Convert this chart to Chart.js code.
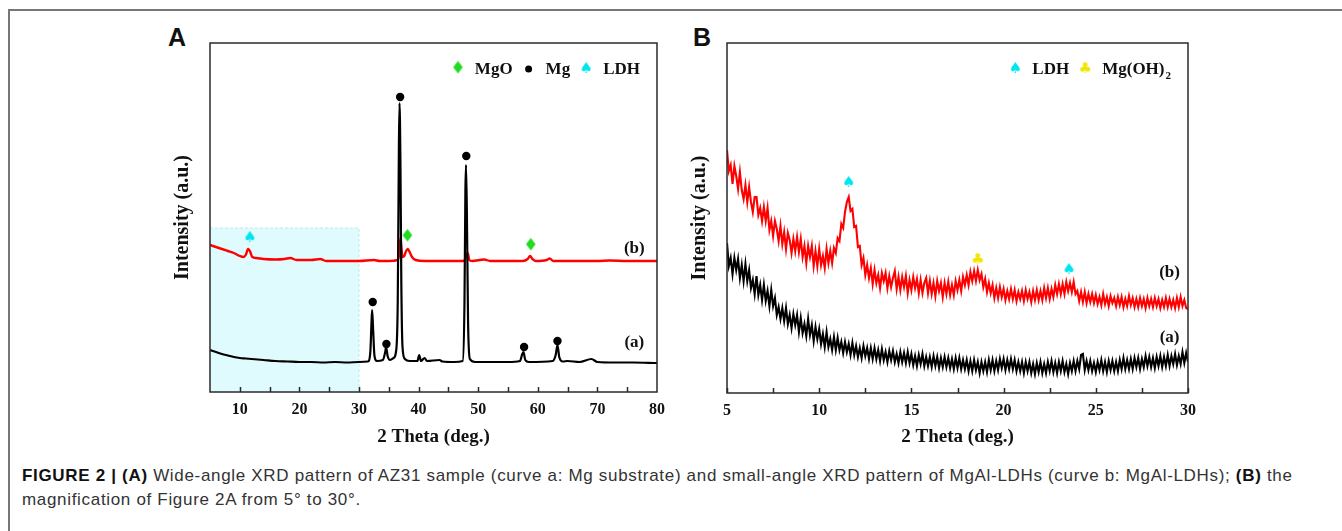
<!DOCTYPE html>
<html>
<head>
<meta charset="utf-8">
<script src="https://cdn.jsdelivr.net/npm/chart.js@4.4.1/dist/chart.umd.min.js"></script>
<style>
  html, body { margin: 0; padding: 0; background: #fff; }
  body { width: 1342px; height: 531px; position: relative; overflow: hidden; }
  .frame-top { position: absolute; left: 8px; top: 9px; width: 1334px; height: 2px; background: #777; }
  .frame-left { position: absolute; left: 8px; top: 9px; width: 2px; height: 522px; background: #777; }
  .panel-tag { position: absolute; top: 25px; font: bold 25px/25px "Liberation Sans", Arial, sans-serif; color: #111; }
  .chart-box { position: absolute; top: 30px; }
  #caption { position: absolute; left: 22px; top: 464px; margin: 0; white-space: nowrap;
             font: 17px/24px "Liberation Sans", Arial, sans-serif; letter-spacing: 0.68px; color: #333; }
  #caption b { color: #111; }
</style>
</head>
<body>
<div class="frame-top"></div>
<div class="frame-left"></div>
<div class="panel-tag" style="left:168px">A</div>
<div class="panel-tag" style="left:693px">B</div>
<div class="chart-box" style="left:150px"><canvas id="chartA" width="530" height="420"></canvas></div>
<div class="chart-box" style="left:667px"><canvas id="chartB" width="544" height="420"></canvas></div>
<p id="caption"><b>FIGURE 2 | (A)</b> Wide-angle XRD pattern of AZ31 sample (curve a: Mg substrate) and small-angle XRD pattern of MgAl-LDHs (curve b: MgAl-LDHs); <b>(B)</b> the<br>magnification of Figure 2A from 5° to 30°.</p>

<script>
// ----------------- Panel A data (5-80 deg, a.u.) -----------------
const aTickLabels = [10, 20, 30, 40, 50, 60, 70, 80];
const aTickMarks = [10, 15, 20, 25, 30, 35, 40, 45, 50, 55, 60, 65, 70, 75];

// curve (a): Mg substrate
const aThetaBlack = [5, 6, 7, 8, 9, 10, 11, 12, 13, 14, 16, 18, 20, 22, 24, 26, 28, 30,
  31.5, 31.9, 32.1, 32.2, 32.35, 32.6, 33, 34, 34.4, 34.55, 34.8, 35.2, 35.8,
  36.2, 36.5, 36.7, 36.8, 36.95, 37.1, 37.3, 37.7, 38.5, 39.8, 40.1, 40.4, 41, 41.4,
  43.5, 44, 46, 47.4, 47.7, 47.85, 47.95, 48.1, 48.3, 48.6, 49.5, 52, 55,
  57, 57.4, 57.6, 57.9, 58.5, 62.5, 63, 63.3, 63.6, 64.2, 65, 67, 69, 70, 73, 76, 80];
const aBlack = [42, 40, 38, 36.5, 35, 34, 33.5, 33, 32.5, 32, 31, 30.5, 30, 30, 29.5, 30, 29.5, 30,
  30.5, 40, 70, 82, 65, 36, 31, 32, 40, 45, 36, 32, 34,
  40, 90, 250, 289, 230, 110, 45, 33, 31, 31, 37, 31, 34, 31,
  32, 30.5, 30, 31, 90, 200, 227, 180, 70, 33, 30, 30, 30,
  31, 38, 40, 32, 30, 31, 37, 47, 35, 30.5, 31, 30, 33, 30, 29.5, 29.5, 29];

// curve (b): MgAl-LDHs
const aThetaRed = [5, 6, 7, 8, 9, 10, 10.6, 11, 11.4, 11.7, 12.1, 12.8, 14, 16, 17.5, 18.5, 19.5,
  22, 23.5, 24.5, 27, 30, 32.5, 33.5, 35, 36.5, 36.8, 36.95, 37.1, 37.3,
  37.6, 37.9, 38.2, 38.5, 38.9, 39.5, 41, 44, 47.5, 48, 48.25, 48.5, 49,
  51, 52, 55, 57.5, 58.3, 58.7, 59.1, 59.6, 61.5, 62, 62.6, 66, 70, 72, 75, 80];
const aRed = [147, 145, 143, 141, 139, 136, 135, 137, 143, 141, 135, 134, 133, 132.5, 133, 134, 132,
  132, 133, 131, 131, 131, 132, 131, 131, 132, 140, 154, 145, 135,
  136, 141, 143, 140, 135, 132, 131, 131, 131, 135, 139, 132, 131,
  132.5, 131, 131, 131, 133, 136, 133, 131, 132, 133.5, 131, 131, 131, 131.5, 131, 131];

// phase markers
const aMgOTheta = [38.1, 58.8];
const aMgOY = [155, 146];
const aMgTheta = [32.3, 34.6, 36.9, 48.0, 57.7, 63.3];
const aMgY = [90, 48, 295, 236, 45, 51];
const aLdhTheta = [11.7];
const aLdhY = [154];

// small-angle window highlighted in A
const shadeFrom = 5, shadeTo = 30, shadeTop = 164;

// ----------------- Panel B data (5-30 deg, a.u.) -----------------
const bTickLabels = [5, 10, 15, 20, 25, 30];
const bTickMarks = [5, 7.5, 10, 12.5, 15, 17.5, 20, 22.5, 25, 27.5, 30];

const bTheta = [
  5.0, 5.1, 5.2, 5.3, 5.4, 5.5, 5.6, 5.7, 5.8, 5.9,
  6.0, 6.1, 6.2, 6.3, 6.4, 6.5, 6.6, 6.7, 6.8, 6.9,
  7.0, 7.1, 7.2, 7.3, 7.4, 7.5, 7.6, 7.7, 7.8, 7.9,
  8.0, 8.1, 8.2, 8.3, 8.4, 8.5, 8.6, 8.7, 8.8, 8.9,
  9.0, 9.1, 9.2, 9.3, 9.4, 9.5, 9.6, 9.7, 9.8, 9.9,
  10.0, 10.1, 10.2, 10.3, 10.4, 10.5, 10.6, 10.7, 10.8, 10.9,
  11.0, 11.1, 11.2, 11.3, 11.4, 11.5, 11.6, 11.7, 11.8, 11.9,
  12.0, 12.1, 12.2, 12.3, 12.4, 12.5, 12.6, 12.7, 12.8, 12.9,
  13.0, 13.1, 13.2, 13.3, 13.4, 13.5, 13.6, 13.7, 13.8, 13.9,
  14.0, 14.1, 14.2, 14.3, 14.4, 14.5, 14.6, 14.7, 14.8, 14.9,
  15.0, 15.1, 15.2, 15.3, 15.4, 15.5, 15.6, 15.7, 15.8, 15.9,
  16.0, 16.1, 16.2, 16.3, 16.4, 16.5, 16.6, 16.7, 16.8, 16.9,
  17.0, 17.1, 17.2, 17.3, 17.4, 17.5, 17.6, 17.7, 17.8, 17.9,
  18.0, 18.1, 18.2, 18.3, 18.4, 18.5, 18.6, 18.7, 18.8, 18.9,
  19.0, 19.1, 19.2, 19.3, 19.4, 19.5, 19.6, 19.7, 19.8, 19.9,
  20.0, 20.1, 20.2, 20.3, 20.4, 20.5, 20.6, 20.7, 20.8, 20.9,
  21.0, 21.1, 21.2, 21.3, 21.4, 21.5, 21.6, 21.7, 21.8, 21.9,
  22.0, 22.1, 22.2, 22.3, 22.4, 22.5, 22.6, 22.7, 22.8, 22.9,
  23.0, 23.1, 23.2, 23.3, 23.4, 23.5, 23.6, 23.7, 23.8, 23.9,
  24.0, 24.1, 24.2, 24.3, 24.4, 24.5, 24.6, 24.7, 24.8, 24.9,
  25.0, 25.1, 25.2, 25.3, 25.4, 25.5, 25.6, 25.7, 25.8, 25.9,
  26.0, 26.1, 26.2, 26.3, 26.4, 26.5, 26.6, 26.7, 26.8, 26.9,
  27.0, 27.1, 27.2, 27.3, 27.4, 27.5, 27.6, 27.7, 27.8, 27.9,
  28.0, 28.1, 28.2, 28.3, 28.4, 28.5, 28.6, 28.7, 28.8, 28.9,
  29.0, 29.1, 29.2, 29.3, 29.4, 29.5, 29.6, 29.7, 29.8, 29.9,
  30.0];

// curve (b): MgAl-LDHs, noisy raw scan
const bRed = [
  243, 222, 228, 209, 227, 217, 204, 221, 203, 194,
  208, 191, 206, 191, 181, 196, 196, 178, 185, 172,
  186, 172, 185, 163, 172, 157, 172, 164, 152, 167,
  149, 161, 144, 160, 153, 140, 154, 142, 156, 141,
  154, 136, 147, 130, 147, 136, 147, 127, 142, 127,
  144, 128, 137, 125, 144, 130, 142, 130, 145, 140,
  155, 152, 169, 165, 181, 191, 196, 182, 184, 166,
  167, 146, 147, 128, 135, 118, 128, 115, 125, 109,
  123, 110, 118, 105, 120, 112, 120, 105, 117, 106,
  115, 122, 104, 116, 103, 116, 106, 117, 100, 113,
  103, 116, 105, 114, 100, 113, 100, 110, 115, 100,
  112, 99, 110, 97, 112, 102, 110, 96, 110, 99,
  111, 98, 108, 98, 112, 103, 113, 102, 116, 108,
  118, 108, 121, 112, 122, 112, 123, 113, 119, 106,
  114, 101, 110, 100, 108, 95, 105, 95, 106, 96,
  104, 93, 102, 94, 104, 94, 103, 92, 101, 94,
  102, 92, 103, 94, 101, 91, 102, 93, 103, 93,
  102, 93, 105, 95, 105, 94, 104, 96, 108, 99,
  109, 99, 109, 99, 111, 102, 110, 101, 111, 99,
  102, 92, 101, 91, 101, 90, 99, 91, 99, 90,
  98, 89, 96, 88, 99, 89, 96, 87, 97, 90,
  95, 87, 96, 88, 96, 86, 94, 87, 97, 88,
  95, 86, 94, 86, 95, 87, 94, 85, 95, 87,
  94, 86, 95, 87, 94, 85, 93, 86, 95, 86,
  94, 86, 93, 85, 95, 86, 96, 87, 93, 85,
  84];

// curve (a): Mg substrate, noisy raw scan
const bBlack = [
  150, 127, 135, 119, 135, 123, 134, 115, 128, 112,
  129, 112, 123, 105, 113, 99, 117, 98, 108, 93,
  108, 92, 102, 87, 103, 87, 95, 78, 86, 74,
  85, 72, 85, 69, 78, 65, 79, 68, 78, 61,
  75, 60, 69, 57, 74, 58, 68, 52, 66, 54,
  64, 49, 59, 46, 61, 46, 54, 43, 56, 43,
  55, 43, 51, 40, 51, 41, 49, 38, 50, 38,
  47, 36, 45, 35, 47, 37, 45, 34, 45, 34,
  45, 34, 43, 32, 44, 33, 41, 31, 42, 33,
  42, 31, 39, 30, 41, 31, 40, 30, 41, 30,
  39, 28, 37, 27, 38, 29, 39, 27, 36, 27,
  36, 26, 37, 27, 36, 25, 35, 26, 36, 26,
  35, 25, 34, 24, 35, 25, 35, 24, 33, 24,
  33, 22, 32, 22, 33, 23, 31, 20, 31, 22,
  31, 21, 33, 23, 33, 22, 32, 23, 34, 25,
  34, 23, 33, 24, 34, 24, 33, 22, 31, 22,
  31, 20, 31, 22, 31, 20, 29, 19, 30, 21,
  31, 20, 29, 20, 31, 22, 32, 21, 30, 20,
  31, 22, 32, 21, 29, 19, 30, 22, 32, 22,
  32, 24, 38, 39, 23, 32, 23, 32, 22, 30,
  21, 31, 23, 33, 22, 31, 21, 32, 23, 32,
  22, 31, 22, 33, 24, 35, 24, 33, 24, 34,
  24, 35, 26, 35, 24, 34, 26, 37, 27, 36,
  26, 35, 25, 36, 27, 37, 26, 36, 27, 38,
  27, 37, 29, 39, 28, 37, 29, 41, 30, 40,
  31];

const bLdhTheta = [11.6, 23.55];
const bLdhY = [210, 123];
const bMgOH2Theta = [18.6];
const bMgOH2Y = [133];

// ----------------- Helpers -----------------
const toPoints = (xs, ys) => xs.map((x, i) => ({ x: x, y: ys[i] }));

function makeGlyph(ch, color, size) {
  const c = document.createElement('canvas');
  c.width = Math.ceil(size * 1.1);
  c.height = Math.ceil(size * 1.2);
  const g = c.getContext('2d');
  g.fillStyle = color;
  g.font = size + 'px "DejaVu Sans"';
  g.textAlign = 'center';
  g.textBaseline = 'middle';
  g.fillText(ch, c.width / 2, c.height / 2);
  return c;
}

const spade = makeGlyph('\u2660', '#00e5f0', 15);
const club = makeGlyph('\u2663', '#f2e600', 15);
const diamond = makeGlyph('\u2666', '#1fdc1f', 17);

const serifBold = size => ({ family: '"Liberation Serif", "Times New Roman", serif', size: size, weight: 'bold' });

function lineSet(xs, ys, color, width, smooth) {
  return {
    data: toPoints(xs, ys),
    borderColor: color,
    borderWidth: width,
    pointRadius: 0,
    fill: false,
    tension: 0,
    cubicInterpolationMode: smooth ? 'monotone' : 'default'
  };
}

function markerSet(xs, ys, style, color) {
  return {
    data: toPoints(xs, ys),
    showLine: false,
    pointStyle: style,
    pointRadius: style === 'circle' ? 4.2 : 6,
    backgroundColor: color,
    borderColor: color,
    borderWidth: 0
  };
}

// ----------------- Frame / ticks / legend plugin -----------------
const xrdDecor = {
  id: 'xrdDecor',
  beforeDatasetsDraw(chart, args, opts) {
    if (!opts.shade) return;
    const { ctx, chartArea, scales: { x, y } } = chart;
    const l = x.getPixelForValue(opts.shade[0]);
    const r = x.getPixelForValue(opts.shade[1]);
    const t = y.getPixelForValue(opts.shade[2]);
    ctx.save();
    ctx.fillStyle = '#e0fbfd';
    ctx.fillRect(l, t, r - l, chartArea.bottom - t);
    ctx.strokeStyle = '#bfe8ee';
    ctx.lineWidth = 1;
    ctx.setLineDash([3, 2]);
    ctx.beginPath();
    ctx.moveTo(l, t); ctx.lineTo(r, t); ctx.lineTo(r, chartArea.bottom);
    ctx.stroke();
    ctx.restore();
  },
  afterDatasetsDraw(chart, args, opts) {
    const { ctx, chartArea: area, scales: { x, y } } = chart;
    ctx.save();
    // box
    ctx.strokeStyle = '#2a2a2a';
    ctx.lineWidth = 1.5;
    ctx.strokeRect(area.left, area.top, area.right - area.left, area.bottom - area.top);
    // inward ticks on the bottom axis
    ctx.beginPath();
    opts.tickMarks.forEach(v => {
      const px = Math.round(x.getPixelForValue(v)) + 0.5;
      ctx.moveTo(px, area.bottom);
      ctx.lineTo(px, area.bottom - 5);
    });
    ctx.stroke();

    // curve labels
    ctx.fillStyle = '#111';
    ctx.font = 'bold 17px "Liberation Serif", serif';
    ctx.textAlign = 'center';
    ctx.textBaseline = 'middle';
    opts.curveLabels.forEach(c => {
      ctx.fillText(c.text, x.getPixelForValue(c.x), y.getPixelForValue(c.y));
    });

    // legend, right aligned in the top of the plot
    const items = opts.legend;
    const font = 'bold 17px "Liberation Serif", serif';
    const subFont = 'bold 11px "Liberation Serif", serif';
    const widths = items.map(it => {
      ctx.font = font;
      let w = ctx.measureText(it.text).width;
      if (it.sub) { ctx.font = subFont; w += ctx.measureText(it.sub).width + 1; }
      return w;
    });
    let total = 0;
    items.forEach((it, i) => { total += (i ? 16 : 0) + 17 + widths[i]; });
    let cx = area.right - 17 - total;
    const cy = area.top + 26;
    items.forEach((it, i) => {
      if (i) cx += 16;
      if (it.marker === 'dot') {
        ctx.fillStyle = '#000';
        ctx.beginPath();
        ctx.arc(cx, cy, 3.5, 0, Math.PI * 2);
        ctx.fill();
      } else {
        ctx.drawImage(it.marker, cx - it.marker.width / 2, cy - it.marker.height / 2);
      }
      cx += 17;
      ctx.fillStyle = '#111';
      ctx.textAlign = 'left';
      ctx.font = font;
      ctx.fillText(it.text, cx, cy + 1);
      const tw = ctx.measureText(it.text).width;
      if (it.sub) {
        ctx.font = subFont;
        ctx.fillText(it.sub, cx + tw + 1, cy + 7);
      }
      cx += widths[i];
    });
    ctx.restore();
  }
};

function buildChart(id, cfg) {
  return new Chart(document.getElementById(id), {
    type: 'line',
    data: { datasets: cfg.datasets },
    options: {
      responsive: false,
      animation: false,
      layout: { padding: { top: 13, right: 23, left: 0, bottom: 0 } },
      plugins: {
        legend: { display: false },
        tooltip: { enabled: false },
        xrdDecor: {
          shade: cfg.shade,
          tickMarks: cfg.tickMarks,
          curveLabels: cfg.curveLabels,
          legend: cfg.legend
        }
      },
      scales: {
        x: {
          type: 'linear',
          min: cfg.xMin,
          max: cfg.xMax,
          afterFit: s => { s.height = cfg.xHeight; },
          afterBuildTicks: s => { s.ticks = cfg.tickLabels.map(v => ({ value: v })); },
          ticks: { font: serifBold(16), color: '#111', padding: 8, maxRotation: 0, autoSkip: false },
          grid: { display: false, drawTicks: false },
          border: { display: false },
          title: { display: true, text: '2 Theta (deg.)', font: serifBold(19), color: '#111', padding: { top: 0, bottom: 1.5 } }
        },
        y: {
          min: 0,
          max: cfg.yMax,
          afterFit: s => { s.width = 60; },
          ticks: { display: false },
          grid: { display: false, drawTicks: false },
          border: { display: false },
          title: { display: true, text: 'Intensity (a.u.)', font: serifBold(20), color: '#111', padding: { top: 21, bottom: 0 } }
        }
      }
    },
    plugins: [xrdDecor]
  });
}

// ----------------- Panel A -----------------
buildChart('chartA', {
  xMin: 5, xMax: 80, yMax: 349, xHeight: 58,
  tickLabels: aTickLabels,
  tickMarks: aTickMarks,
  shade: [shadeFrom, shadeTo, shadeTop],
  datasets: [
    markerSet(aMgTheta, aMgY, 'circle', '#000'),
    markerSet(aMgOTheta, aMgOY, diamond, '#1fdc1f'),
    markerSet(aLdhTheta, aLdhY, spade, '#00e5f0'),
    lineSet(aThetaBlack, aBlack, '#000', 2.2, true),
    lineSet(aThetaRed, aRed, '#ff0000', 2.4, true)
  ],
  curveLabels: [{ text: '(b)', x: 76.2, y: 143 }, { text: '(a)', x: 76.2, y: 49 }],
  legend: [
    { marker: diamond, text: 'MgO' },
    { marker: 'dot', text: 'Mg' },
    { marker: spade, text: 'LDH' }
  ]
});

// ----------------- Panel B -----------------
buildChart('chartB', {
  xMin: 5, xMax: 30, yMax: 350, xHeight: 57,
  tickLabels: bTickLabels,
  tickMarks: bTickMarks,
  shade: null,
  datasets: [
    markerSet(bLdhTheta, bLdhY, spade, '#00e5f0'),
    markerSet(bMgOH2Theta, bMgOH2Y, club, '#f2e600'),
    lineSet(bTheta, bBlack, '#000', 2.1, false),
    lineSet(bTheta, bRed, '#ff0000', 2.1, false)
  ],
  curveLabels: [{ text: '(b)', x: 29.0, y: 120 }, { text: '(a)', x: 29.0, y: 55 }],
  legend: [
    { marker: spade, text: 'LDH' },
    { marker: club, text: 'Mg(OH)', sub: '2' }
  ]
});
</script>
</body>
</html>
